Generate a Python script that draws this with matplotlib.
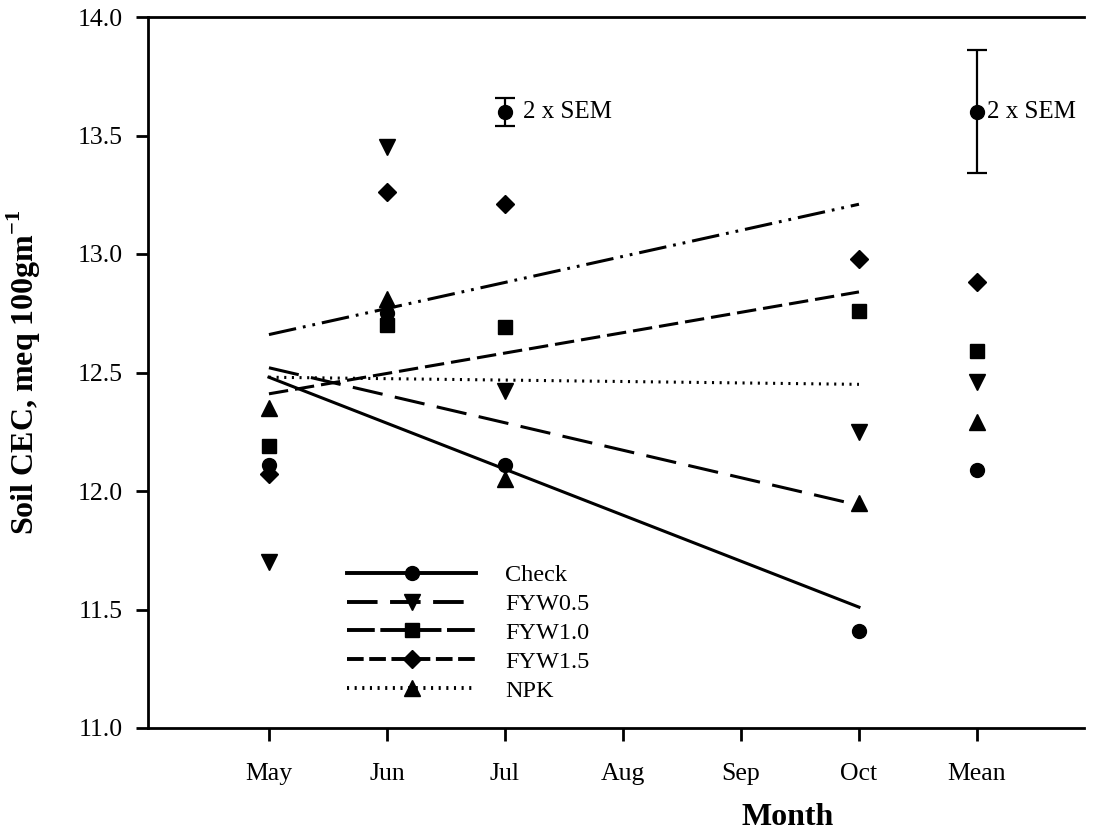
import matplotlib
matplotlib.use("Agg")
import matplotlib.pyplot as plt
from matplotlib.lines import Line2D

plt.rcParams["font.family"] = ["Liberation Serif", "DejaVu Serif"]
plt.rcParams["mathtext.fontset"] = "custom"
plt.rcParams["mathtext.rm"] = "Liberation Serif"
plt.rcParams["mathtext.bf"] = "Liberation Serif:bold"
plt.rcParams["lines.scale_dashes"] = False

# months on the x axis (Mean sits at the end)
months = ["May", "Jun", "Jul", "Aug", "Sep", "Oct", "Mean"]
obs_x = [1, 2, 3, 6]
mean_x = 7

# observed soil CEC (May, Jun, Jul, Oct) and treatment means
check = [12.11, 12.75, 12.11, 11.41]
fyw05 = [11.70, 13.45, 12.42, 12.25]
fyw10 = [12.19, 12.70, 12.69, 12.76]
fyw15 = [12.07, 13.26, 13.21, 12.98]
npk = [12.35, 12.81, 12.05, 11.95]
means = {"Check": 12.09, "FYW0.5": 12.46, "FYW1.0": 12.59, "FYW1.5": 12.88, "NPK": 12.29}

# fitted trend lines, May -> Oct
trend_x = [1, 6]
trend_solid = [12.48, 11.51]
trend_longdash = [12.52, 11.94]
trend_dash = [12.41, 12.84]
trend_dot = [12.48, 12.45]
trend_dashdotdot = [12.66, 13.21]

# 2 x SEM bars
sem_x = [3, 7]
sem_y = [13.60, 13.60]
sem_err = [0.06, 0.26]
sem_text_offset = [13, 7]

styles = {
    "Check": ("o", "-", 10),
    "FYW0.5": ("v", (0, (22, 9)), 11),
    "FYW1.0": ("s", (0, (20, 4)), 9.5),
    "FYW1.5": ("D", (0, (12, 4)), 9.5),
    "NPK": ("^", (0, (1.5, 4)), 11),
}
series = {"Check": check, "FYW0.5": fyw05, "FYW1.0": fyw10, "FYW1.5": fyw15, "NPK": npk}

fig = plt.figure(figsize=(10.94, 8.4), dpi=100)
ax = fig.add_axes([148 / 1094, 112 / 840, 936 / 1094, 711 / 840])

lw = 2.2
ax.plot(trend_x, trend_solid, color="black", lw=lw, ls="-")
ax.plot(trend_x, trend_longdash, color="black", lw=lw, ls=(0, (22, 9)))
ax.plot(trend_x, trend_dash, color="black", lw=lw, ls=(0, (14, 5)))
ax.plot(trend_x, trend_dot, color="black", lw=lw, ls=(0, (1.5, 4)))
ax.plot(trend_x, trend_dashdotdot, color="black", lw=lw, ls=(0, (20, 5, 2, 5, 2, 5)))

handles = []
for name, vals in series.items():
    mk, ls, ms = styles[name]
    ax.plot(obs_x, vals, ls="none", marker=mk, ms=ms, color="black")
    ax.plot([mean_x], [means[name]], ls="none", marker=mk, ms=ms, color="black")
    handles.append(Line2D([], [], color="black", lw=lw + 0.6, ls=ls, marker=mk, ms=ms, label=name))

ax.errorbar(sem_x, sem_y, yerr=sem_err, fmt="o", ms=10, color="black",
            ecolor="black", elinewidth=1.6, capsize=7, capthick=1.6)
for x, y, off in zip(sem_x, sem_y, sem_text_offset):
    ax.annotate("2 x SEM", xy=(x, y), xytext=(off, 0), textcoords="offset points",
                va="center", ha="left", fontsize=18)

ax.legend(handles=handles, loc="lower left", bbox_to_anchor=(0.2, 0.02),
          frameon=False, fontsize=17.5, handlelength=5.3, handletextpad=1.2,
          labelspacing=0.28, borderpad=0)

ax.set_xlim(-0.025, 7.907)
ax.set_ylim(11.0, 14.0)
ax.set_xticks(range(1, 8))
ax.set_xticklabels(months)
ax.set_yticks([11.0, 11.5, 12.0, 12.5, 13.0, 13.5, 14.0])
ax.set_yticklabels(["%.1f" % v for v in ax.get_yticks()])
ax.tick_params(direction="out", length=9, width=2, labelsize=18.5)
ax.tick_params(axis="x", pad=16)
ax.tick_params(axis="y", pad=9)
ax.spines["right"].set_visible(False)
for s in ["left", "bottom", "top"]:
    ax.spines[s].set_linewidth(2)

ax.set_xlabel("Month", fontsize=23, fontweight="bold")
ax.xaxis.set_label_coords(0.683, -0.105)
ax.set_ylabel(r"Soil CEC, meq 100gm$^{\mathbf{-1}}$", fontsize=23, fontweight="bold")
ax.yaxis.set_label_coords(-0.112, 0.5)

fig.savefig("out.png", dpi=100)
